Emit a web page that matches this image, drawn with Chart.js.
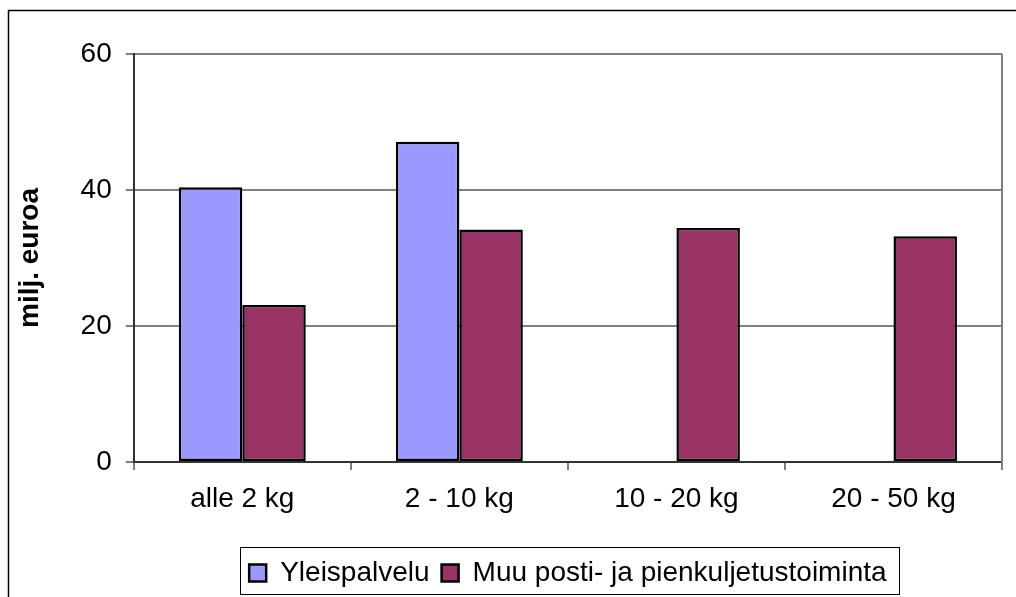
<!DOCTYPE html>
<html>
<head>
<meta charset="utf-8">
<script src="https://cdn.jsdelivr.net/npm/chart.js@4"></script>
<style>
  html, body { margin: 0; padding: 0; background: #fff; }
  #wrap { width: 1016px; height: 597px; position: relative; }
</style>
</head>
<body>
<div id="wrap"><canvas id="postChart" width="1016" height="597"></canvas></div>
<script>
var categories = ["alle 2 kg", "2 - 10 kg", "10 - 20 kg", "20 - 50 kg"];
var yleispalvelu = [40.4, 47.1, null, null];
var muuToiminta = [23.1, 34.2, 34.4, 33.2];
var seriesNames = ["Yleispalvelu", "Muu posti- ja pienkuljetustoiminta"];
var yTicks = [0, 20, 40, 60];

var FONT = 'Liberation Sans, Arial';

// frame round the whole chart, right border of the plot, legend box
var framePlugin = {
    id: 'frame',
    afterLayout: function (chart) {
        var lg = chart.legend;
        var shift = (chart.chartArea.left + chart.chartArea.right) / 2 - (lg.left + lg.right) / 2;
        lg.left += shift;
        lg.right += shift;
    },
    afterDraw: function (chart) {
        var ctx = chart.ctx;
        var a = chart.chartArea;
        ctx.save();
        ctx.strokeStyle = '#000';
        ctx.lineWidth = 1.5;
        ctx.strokeRect(8.5, 10.5, 1100, 700);

        ctx.strokeStyle = '#808080';
        ctx.lineWidth = 2;
        ctx.beginPath();
        ctx.moveTo(a.right, a.top);
        ctx.lineTo(a.right, a.bottom + 8);
        ctx.stroke();

        var lg = chart.legend;
        var pad = lg.options.labels.padding;
        var content = lg.lineWidths[0] - pad;
        var cx = (lg.left + lg.right) / 2;
        var x0 = cx - content / 2 - 9;
        ctx.strokeStyle = '#000';
        ctx.lineWidth = 1;
        ctx.strokeRect(Math.round(x0) + 0.5, 547.5, Math.round(content + 22), 47);
        ctx.restore();
    }
};

new Chart("postChart", {
    type: 'bar',
    plugins: [framePlugin],
    data: {
        labels: categories,
        datasets: [{
            label: seriesNames[0],
            data: yleispalvelu,
            backgroundColor: '#9999ff',
            borderColor: '#000',
            borderWidth: 2.5,
            borderSkipped: false,
            barPercentage: 1,
            categoryPercentage: 0.585
        }, {
            label: seriesNames[1],
            data: muuToiminta,
            backgroundColor: '#993366',
            borderColor: '#000',
            borderWidth: 2.5,
            borderSkipped: false,
            barPercentage: 1,
            categoryPercentage: 0.585
        }]
    },
    options: {
        responsive: false,
        animation: false,
        devicePixelRatio: 1,
        layout: {
            padding: { top: 54, right: 14, left: 13, bottom: 0 }
        },
        scales: {
            x: {
                afterFit: function (axis) {
                    axis.height = 85;
                },
                grid: {
                    offset: true,
                    drawOnChartArea: false,
                    drawTicks: true,
                    tickLength: 8,
                    color: '#808080',
                    lineWidth: 2
                },
                border: { color: '#333', width: 2 },
                ticks: {
                    color: '#000',
                    padding: 12,
                    font: { family: FONT, size: 28 }
                }
            },
            y: {
                min: 0,
                max: 60,
                afterBuildTicks: function (axis) {
                    axis.ticks = yTicks.map(function (v) { return { value: v }; });
                },
                grid: {
                    color: '#808080',
                    lineWidth: 2,
                    tickLength: 8
                },
                border: { color: '#333', width: 2 },
                ticks: {
                    color: '#000',
                    padding: 14,
                    font: { family: FONT, size: 28 }
                },
                title: {
                    display: true,
                    text: 'milj. euroa',
                    color: '#000',
                    padding: { top: 0, bottom: 20 },
                    font: { family: FONT, size: 28, weight: 'bold' }
                }
            }
        },
        plugins: {
            legend: {
                position: 'bottom',
                labels: {
                    color: '#000',
                    boxWidth: 17,
                    boxHeight: 17,
                    padding: 12,
                    font: { family: FONT, size: 28 }
                }
            },
            tooltip: { enabled: false }
        }
    }
});
</script>
</body>
</html>
